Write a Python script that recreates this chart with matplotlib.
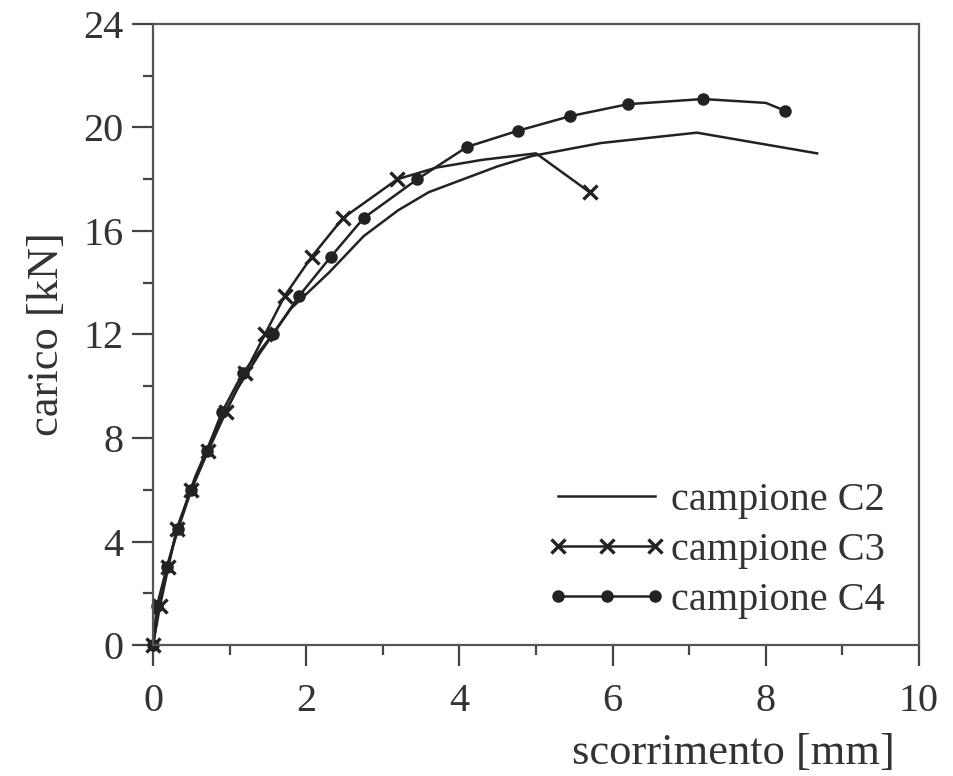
import matplotlib.pyplot as plt
import numpy as np

# scorrimento [mm] / carico [kN]
c2_x = [0, 0.08, 0.2, 0.35, 0.55, 0.8, 1.1, 1.4, 1.8, 2.3, 2.75, 3.2, 3.6, 4.05, 4.5, 4.95, 5.85, 7.1, 8.67]
c2_y = [0, 1.5, 3.2, 4.8, 6.5, 8.2, 9.9, 11.3, 13.0, 14.4, 15.8, 16.8, 17.5, 18.0, 18.5, 18.9, 19.4, 19.8, 19.0]

c3_x = [0, 0.09, 0.2, 0.31, 0.5, 0.72, 0.95, 1.2, 1.46, 1.72, 2.07, 2.48, 3.19, 3.7, 4.3, 5.0, 5.7]
c3_y = [0, 1.5, 3.0, 4.5, 6.0, 7.5, 9.0, 10.5, 12.0, 13.5, 15.0, 16.5, 18.0, 18.45, 18.75, 19.0, 17.5]
c3_marks = [0, 1, 2, 3, 4, 5, 6, 7, 8, 9, 10, 11, 12, 16]

c4_x = [0, 0.05, 0.18, 0.33, 0.5, 0.7, 0.9, 1.17, 1.56, 1.91, 2.32, 2.75, 3.45, 4.1, 4.76, 5.45, 6.2, 7.18, 8.0, 8.25]
c4_y = [0, 1.5, 3.0, 4.5, 6.0, 7.5, 9.0, 10.5, 12.0, 13.5, 15.0, 16.5, 18.0, 19.25, 19.87, 20.44, 20.9, 21.1, 20.95, 20.65]
c4_marks = [0, 1, 2, 3, 4, 5, 6, 7, 8, 9, 10, 11, 12, 13, 14, 15, 16, 17, 19]

plt.rcParams['font.family'] = ['Liberation Serif', 'DejaVu Serif']
text_col = '#333333'
line_col = '#222222'

fig = plt.figure(figsize=(9.54, 7.76), dpi=100)
ax = fig.add_axes([0.1604, 0.1688, 0.8029, 0.8003])

ax.plot(c2_x, c2_y, color=line_col, lw=1.8, label='campione C2', clip_on=False)
ax.plot(c3_x, c3_y, color=line_col, lw=1.8, marker='x', ms=10, mew=2.4,
        markevery=c3_marks, label='campione C3', clip_on=False)
ax.plot(c4_x, c4_y, color=line_col, lw=1.8, marker='o', ms=8,
        markevery=c4_marks, label='campione C4', clip_on=False)

ax.set_xlim(0, 10)
ax.set_ylim(0, 24)
ax.set_xticks(np.arange(0, 11, 2))
ax.set_xticks(np.arange(1, 10, 2), minor=True)
ax.set_yticks(np.arange(0, 25, 4))
ax.set_yticks(np.arange(2, 23, 4), minor=True)

for s in ax.spines.values():
    s.set_color('#555555')
    s.set_linewidth(1.6)
ax.tick_params(which='major', direction='out', length=15, width=1.6, color='#444444',
               labelsize=29, labelcolor=text_col, pad=6)
ax.tick_params(which='minor', direction='out', length=7.5, width=1.6, color='#444444')
ax.tick_params(axis='x', which='major', pad=12)

ax.set_xlabel('scorrimento [mm]', fontsize=32, color=text_col, loc='right', labelpad=10)
ax.xaxis.label.set_x(0.969)
ax.set_ylabel('carico [kN]', fontsize=32, color=text_col, labelpad=12)

ax.legend(loc='lower right', bbox_to_anchor=(1.003, -0.017), frameon=False, fontsize=29,
          handlelength=3.0, numpoints=3, labelspacing=0.32, handletextpad=0.1,
          labelcolor=text_col)

fig.savefig('out.png', dpi=100)
